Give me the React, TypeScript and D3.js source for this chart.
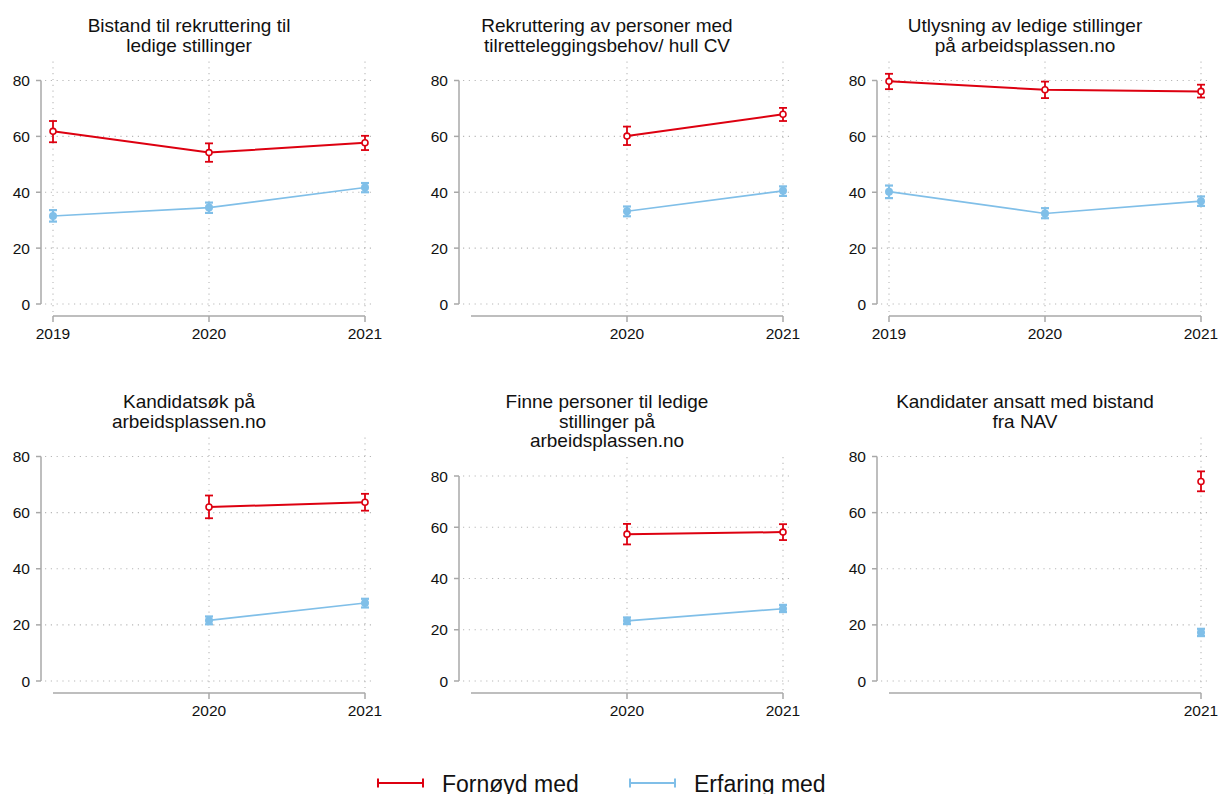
import React from "react";
import * as d3 from "d3";

const panelTitles: string[][] = [
  ["Bistand til rekruttering til", "ledige stillinger"],
  ["Rekruttering av personer med", "tilretteleggingsbehov/ hull CV"],
  ["Utlysning av ledige stillinger", "på arbeidsplassen.no"],
  ["Kandidatsøk på", "arbeidsplassen.no"],
  ["Finne personer til ledige", "stillinger på", "arbeidsplassen.no"],
  ["Kandidater ansatt med bistand", "fra NAV"],
];

const panelYears: number[][] = [
  [2019, 2020, 2021],
  [2020, 2021],
  [2019, 2020, 2021],
  [2020, 2021],
  [2020, 2021],
  [2021],
];

const fornoydMean: number[][] = [
  [61.8, 54.2, 57.7],
  [60.1, 67.9],
  [79.7, 76.7, 76.1],
  [62.0, 63.7],
  [57.3, 58.1],
  [71.1],
];
const fornoydLow: number[][] = [
  [57.9, 50.9, 55.1],
  [56.9, 65.5],
  [76.9, 73.7, 73.9],
  [58.0, 60.7],
  [53.3, 55.0],
  [67.6],
];
const fornoydHigh: number[][] = [
  [65.5, 57.5, 60.2],
  [63.5, 70.2],
  [82.4, 79.6, 78.5],
  [66.1, 66.7],
  [61.3, 61.2],
  [74.7],
];

const erfaringMean: number[][] = [
  [31.5, 34.5, 41.7],
  [33.2, 40.5],
  [40.2, 32.4, 36.8],
  [21.6, 27.8],
  [23.5, 28.2],
  [17.3],
];
const erfaringLow: number[][] = [
  [29.5, 32.6, 40.0],
  [31.4, 38.7],
  [37.9, 30.7, 35.1],
  [20.2, 26.2],
  [22.2, 26.9],
  [16.0],
];
const erfaringHigh: number[][] = [
  [33.6, 36.3, 43.3],
  [34.9, 42.1],
  [42.4, 34.3, 38.5],
  [23.0, 29.3],
  [24.8, 29.7],
  [18.6],
];

const yTicks = [0, 20, 40, 60, 80];
const xDomain = [2019, 2021];
const legendLabels = ["Fornøyd med", "Erfaring med"];

const RED = "#dd0010";
const BLUE = "#80bfe8";
const AXIS = "#a8a8a8";
const GRID = "#b8b8b8";
const FONT = "'Liberation Sans', Arial, Helvetica, sans-serif";

function Panel({ idx }: { idx: number }) {
  const col = idx % 3;
  const row = Math.floor(idx / 3);
  const x0 = 53 + 418 * col;
  const titleTop = 32 + 376 * row;
  const lines = panelTitles[idx];
  const yTop = titleTop + (lines.length - 1) * 19.5 + 29;
  const yBottom = 304 + 377 * row;
  const x = d3.scaleLinear().domain(xDomain).range([x0, x0 + 312]);
  const y = d3.scaleLinear().domain([0, 80]).range([yBottom, yTop]);
  const years = panelYears[idx];
  const titleCx = x0 + 136;
  const axisY = yBottom + 12;
  const yAxisX = x0 - 12;

  const line = d3
    .line<[number, number]>()
    .x((d) => x(d[0]))
    .y((d) => y(d[1]));

  const series = [
    { mean: fornoydMean[idx], lo: fornoydLow[idx], hi: fornoydHigh[idx], color: RED, width: 2, hollow: true },
    { mean: erfaringMean[idx], lo: erfaringLow[idx], hi: erfaringHigh[idx], color: BLUE, width: 1.7, hollow: false },
  ];

  return (
    <g>
      {lines.map((t, i) => (
        <text
          key={i}
          x={titleCx}
          y={titleTop + i * 19.5}
          textAnchor="middle"
          fontSize={19}
          fill="#111"
          fontFamily={FONT}
        >
          {t}
        </text>
      ))}
      {/* horizontal grid */}
      {yTicks.map((t) => (
        <line
          key={"h" + t}
          x1={x0 - 8}
          x2={x0 + 320}
          y1={y(t)}
          y2={y(t)}
          stroke={GRID}
          strokeWidth={1.1}
          strokeDasharray="1.2 4.6"
        />
      ))}
      {/* vertical grid */}
      {years.map((yr) => (
        <line
          key={"v" + yr}
          x1={x(yr)}
          x2={x(yr)}
          y1={yTop - 19}
          y2={axisY}
          stroke={GRID}
          strokeWidth={1.1}
          strokeDasharray="1.2 4.6"
        />
      ))}
      {/* y axis */}
      <line x1={yAxisX} x2={yAxisX} y1={y(80)} y2={y(0)} stroke={AXIS} strokeWidth={1.5} />
      {yTicks.map((t) => (
        <g key={"yt" + t}>
          <line x1={yAxisX - 5} x2={yAxisX} y1={y(t)} y2={y(t)} stroke={AXIS} strokeWidth={1.5} />
          <text
            x={yAxisX - 11}
            y={y(t)}
            dy="0.36em"
            textAnchor="end"
            fontSize={15.5}
            fill="#111"
            fontFamily={FONT}
          >
            {t}
          </text>
        </g>
      ))}
      {/* x axis */}
      <line x1={x(2019)} x2={x(2021)} y1={axisY} y2={axisY} stroke={AXIS} strokeWidth={1.5} />
      {years.map((yr) => (
        <g key={"xt" + yr}>
          <line x1={x(yr)} x2={x(yr)} y1={axisY} y2={axisY + 6} stroke={AXIS} strokeWidth={1.5} />
          <text
            x={x(yr)}
            y={axisY + 23}
            textAnchor="middle"
            fontSize={15.5}
            fill="#111"
            fontFamily={FONT}
          >
            {yr}
          </text>
        </g>
      ))}
      {/* series */}
      {series.map((s, si) => {
        const pts: [number, number][] = years.map((yr, i) => [yr, s.mean[i]]);
        return (
          <g key={"s" + si}>
            {pts.length > 1 && (
              <path d={line(pts) || ""} fill="none" stroke={s.color} strokeWidth={s.width} />
            )}
            {years.map((yr, i) => {
              const cx = x(yr);
              return (
                <g key={"e" + i}>
                  <line x1={cx} x2={cx} y1={y(s.lo[i])} y2={y(s.hi[i])} stroke={s.color} strokeWidth={s.hollow ? 1.8 : 2.2} />
                  <line x1={cx - 4} x2={cx + 4} y1={y(s.lo[i])} y2={y(s.lo[i])} stroke={s.color} strokeWidth={s.hollow ? 1.8 : 2.2} />
                  <line x1={cx - 4} x2={cx + 4} y1={y(s.hi[i])} y2={y(s.hi[i])} stroke={s.color} strokeWidth={s.hollow ? 1.8 : 2.2} />
                  {s.hollow ? (
                    <circle cx={cx} cy={y(s.mean[i])} r={3} fill="#fff" stroke={s.color} strokeWidth={1.6} />
                  ) : (
                    <circle cx={cx} cy={y(s.mean[i])} r={4} fill={s.color} />
                  )}
                </g>
              );
            })}
          </g>
        );
      })}
    </g>
  );
}

export default function App() {
  const legendColors = [RED, BLUE];
  const legendX = [378, 630];
  return (
    <svg
      width={1220}
      height={794}
      style={{ position: "absolute", left: 0, top: 0, background: "#fff" }}
    >
      <rect x={0} y={0} width={1220} height={794} fill="#fff" />
      {panelTitles.map((_, i) => (
        <Panel key={i} idx={i} />
      ))}
      {legendLabels.map((lab, i) => (
        <g key={lab}>
          <line x1={legendX[i]} x2={legendX[i] + 45} y1={783} y2={783} stroke={legendColors[i]} strokeWidth={2} />
          <line x1={legendX[i]} x2={legendX[i]} y1={778.5} y2={787.5} stroke={legendColors[i]} strokeWidth={2} />
          <line x1={legendX[i] + 45} x2={legendX[i] + 45} y1={778.5} y2={787.5} stroke={legendColors[i]} strokeWidth={2} />
          <text x={legendX[i] + 64} y={792} fontSize={23} fill="#111" fontFamily={FONT}>
            {lab}
          </text>
        </g>
      ))}
    </svg>
  );
}
